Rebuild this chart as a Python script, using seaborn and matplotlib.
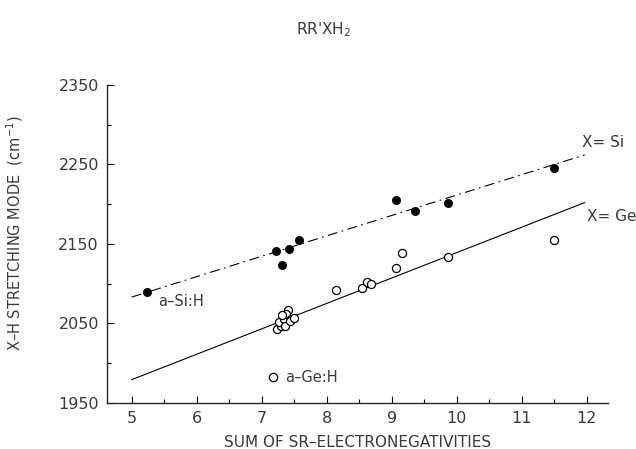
import numpy as np
import pandas as pd
import matplotlib
matplotlib.use("Agg")
import matplotlib.pyplot as plt
import seaborn as sns
from matplotlib.lines import Line2D

# X = Si (filled circles)
si_x = [5.24, 7.22, 7.31, 7.42, 7.58, 9.06, 9.36, 9.86, 11.49]
si_y = [2089, 2141, 2123, 2143, 2155, 2205, 2191, 2201, 2246]

# X = Ge (open circles)
ge_x = [7.23, 7.29, 7.27, 7.34, 7.40, 7.38, 7.45, 7.36, 7.43, 7.31, 7.49,
        8.15, 8.54, 8.62, 8.68, 9.06, 9.16, 9.86, 11.50]
ge_y = [2043, 2046, 2052, 2056, 2067, 2062, 2056, 2046, 2053, 2060, 2057,
        2092, 2094, 2102, 2099, 2120, 2139, 2134, 2155]

# fitted lines
fit_x = [5.0, 11.97]
si_fit = [2083, 2262]
ge_fit = [1979, 2202]

sns.set_style("ticks")
plt.rcParams['font.family'] = ['DejaVu Sans']
txt = '#3a3a3a'

fig = plt.figure(figsize=(6.36, 4.49), dpi=100)
ax = fig.add_axes([0.1687, 0.1031, 0.7865, 0.7076])

sns.lineplot(x=fit_x, y=si_fit, ax=ax, color='black', lw=0.8,
             dashes=False, linestyle=(0, (9, 4, 1.5, 4)))
sns.lineplot(x=fit_x, y=ge_fit, ax=ax, color='black', lw=0.8)

sns.scatterplot(x=si_x, y=si_y, ax=ax, color='black', s=34, edgecolor='black', linewidth=0.6, zorder=3)
sns.scatterplot(x=ge_x, y=ge_y, ax=ax, facecolor='white', s=34, edgecolor='black', linewidth=0.9, zorder=3)

ax.set_xlim(4.625, 12.32)
ax.set_ylim(1950, 2350)
ax.set_xticks([5, 6, 7, 8, 9, 10, 11, 12])
ax.set_xticks(np.arange(5.5, 12, 1.0), minor=True)
ax.set_yticks([1950, 2050, 2150, 2250, 2350])
ax.set_yticks([2000, 2100, 2200, 2300], minor=True)
ax.tick_params(which='both', direction='in', color='black', width=0.8,
               labelsize=11.5, labelcolor=txt, pad=6)
ax.tick_params(which='major', length=5)
ax.tick_params(which='minor', length=3)
sns.despine(ax=ax)
for s in ['left', 'bottom']:
    ax.spines[s].set_linewidth(1.0)

ax.set_xlabel('SUM OF SR\u2013ELECTRONEGATIVITIES', fontsize=11, color=txt)
ax.set_ylabel('X\u2013H STRETCHING MODE  (cm$^{-1}$)', fontsize=10.5, color=txt)
ax.xaxis.set_label_coords(0.5, -0.102)
ax.yaxis.set_label_coords(-0.165, 0.534)

fig.text(0.508, 0.933, "RR'XH$_2$", ha='center', va='center', fontsize=11, color=txt)

ax.text(5.41, 2078, 'a\u2013Si:H', fontsize=10.5, color=txt, va='center')
ax.text(11.92, 2277, 'X= Si', fontsize=11, color=txt, va='center')
ax.text(12.0, 2185, 'X= Ge', fontsize=11, color=txt, va='center')

ge_key = Line2D([], [], marker='o', ls='none', mfc='white', mec='black', ms=6, mew=0.9)
leg = ax.legend([ge_key], ['a\u2013Ge:H'], loc='center left', frameon=False,
                bbox_to_anchor=(0.303, 0.078), handletextpad=0.3, fontsize=10.5,
                borderpad=0, handlelength=1)
for t in leg.get_texts():
    t.set_color(txt)

fig.savefig('out.png', dpi=100)
